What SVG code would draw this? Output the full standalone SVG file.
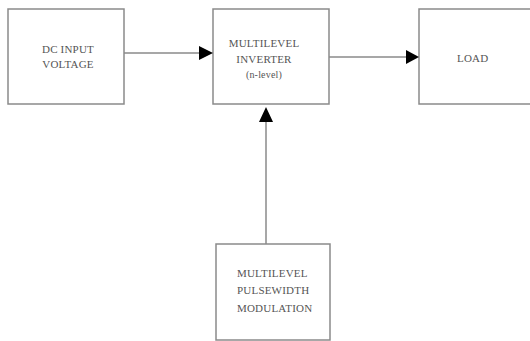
<svg xmlns="http://www.w3.org/2000/svg" width="530" height="341" viewBox="0 0 530 341">
<style>
.box{fill:#fff;stroke:#8a8a8a;stroke-width:1.5}
.ln{stroke:#8a8a8a;stroke-width:1.5;fill:none}
.ah{fill:#000}
text{font-family:"Liberation Serif","Times New Roman",serif;font-size:11px;letter-spacing:0.2px;fill:#555}
.c{text-anchor:middle}
</style>
<rect width="530" height="341" fill="#fff"/>
<g id="dc-input">
<rect class="box" x="8" y="9" width="116" height="95"/>
<text class="c" x="68" y="53">DC INPUT</text>
<text class="c" x="68" y="68">VOLTAGE</text>
</g>
<g id="inverter">
<rect class="box" x="213" y="9" width="116" height="95"/>
<text class="c" x="264" y="47">MULTILEVEL</text>
<text class="c" x="264" y="63">INVERTER</text>
<text class="c" x="264" y="78" style="font-size:10px">(n-level)</text>
</g>
<g id="load">
<rect class="box" x="419" y="9" width="120" height="95"/>
<text x="457" y="62">LOAD</text>
</g>
<g id="pwm">
<rect class="box" x="216" y="244" width="114" height="96"/>
<text x="237" y="277">MULTILEVEL</text>
<text x="237" y="294">PULSEWIDTH</text>
<text x="237" y="312">MODULATION</text>
</g>
<g id="connectors">
<line class="ln" x1="124" y1="53" x2="200" y2="53"/>
<polygon class="ah" points="199,46 213,53 199,60"/>
<line class="ln" x1="329" y1="57" x2="408" y2="57"/>
<polygon class="ah" points="406,50 419,57 406,64"/>
<line class="ln" x1="266" y1="244" x2="266" y2="120"/>
<polygon class="ah" points="259,122 266,107 273,122"/>
</g>
</svg>
